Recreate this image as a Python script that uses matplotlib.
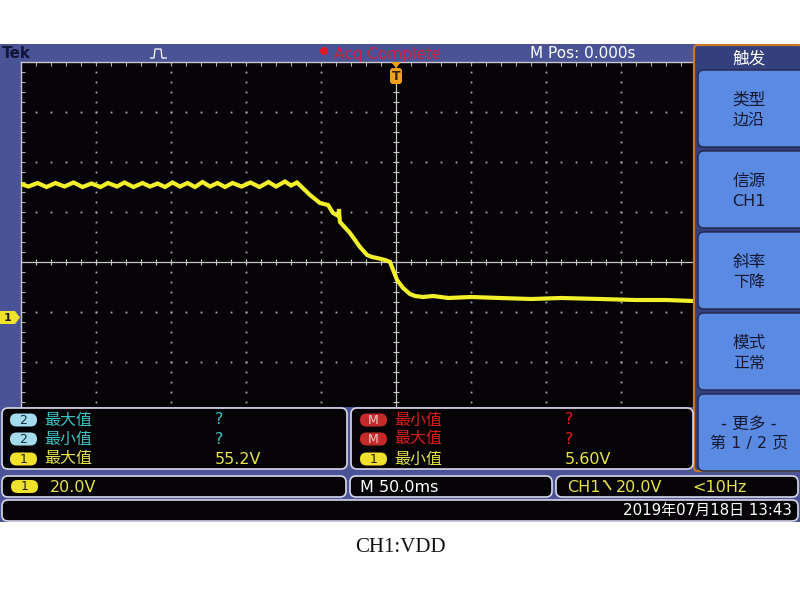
import matplotlib
matplotlib.use('Agg')
import matplotlib.pyplot as plt
from matplotlib.patches import FancyBboxPatch, Rectangle, Polygon, Circle
from matplotlib.transforms import Affine2D
import numpy as np

plt.rcParams['font.family'] = ['DejaVu Sans', 'Noto Sans CJK SC']

# ---------------- data (time in ms, voltage in V) ----------------
trace_t = [-250, -245, -239, -233, -227, -221, -215, -209, -203, -197,
           -192, -186, -181, -175, -169, -164, -159, -154, -149, -144,
           -139, -134, -129, -124, -119, -114, -109, -103, -97, -91,
           -85, -80, -74, -70, -66,
           -57.3, -50.7, -45.3, -42, -38.3, -38, -37.7, -37.3, -30.7, -24,
           -19.3, -16, -12.7, -7.3, -4, -2.7, 0.7, 4.7, 9.3, 12.7,
           18, 24.7, 35, 50, 69.3, 90, 110, 136, 160, 180, 198]
trace_v = [53.2, 52.2, 53.6, 52.0, 53.6, 52.2, 53.8, 52.0, 53.4, 52.0,
           53.6, 52.2, 53.8, 52.0, 53.6, 52.2, 53.4, 52.0, 53.8, 52.2,
           53.6, 52.0, 54.0, 52.2, 53.6, 52.0, 53.6, 52.2, 53.8, 52.0,
           54.0, 52.2, 54.2, 52.6, 53.8,
           48.8, 45.6, 44.8, 41.6, 40.4, 43.2, 40.0, 38.0, 33.6, 28.0,
           24.8, 24.0, 23.6, 22.8, 22.0, 20.0, 14.8, 11.6, 9.2, 8.4,
           8.0, 8.4, 7.6, 8.0, 7.6, 7.2, 7.6, 7.2, 6.8, 6.8, 6.4]

volts_per_div = 20.0
ms_per_div = 50.0
ch1_offset_div = 1.1          # ground marker below screen centre

meas_left = [('2', '最大值', '?'), ('2', '最小值', '?'), ('1', '最大值', '55.2V')]
meas_right = [('M', '最小值', '?'), ('M', '最大值', '?'), ('1', '最小值', '5.60V')]
menu_title = '触发'
menu_items = [('类型', '边沿'), ('信源', 'CH1'), ('斜率', '下降'),
              ('模式', '正常'), ('- 更多 -', '第 1 / 2 页')]
ch1_label = '20.0V'
timebase_label = 'M 50.0ms'
trig_src = 'CH1'
trig_level = '20.0V'
trig_freq = '<10Hz'
date_label = '2019年07月18日 13:43'
mpos_label = 'M Pos: 0.000s'
acq_label = 'Acq Complete'
caption = 'CH1:VDD'

# ---------------- figure ----------------
W, H = 800, 600
fig = plt.figure(figsize=(8, 6), dpi=100)
fig.patch.set_facecolor('white')
T = Affine2D().scale(1 / W, -1 / H).translate(0, 1) + fig.transFigure

FRAME = '#4a5396'
BLUE_BTN = '#5b8ae2'


def add(p, z=2):
    p.set_transform(T)
    p.set_zorder(z)
    fig.add_artist(p)
    return p


def txt(x, y, s, z=5, **kw):
    return fig.text(x, y, s, transform=T, zorder=z, **kw)


def rbox(x0, y0, x1, y1, r=5, fc='black', ec='none', lw=1.0, z=2):
    return add(FancyBboxPatch((x0, y0), x1 - x0, y1 - y0,
                              boxstyle=f"round,pad=0,rounding_size={r}",
                              fc=fc, ec=ec, lw=lw), z)


# outer scope frame
add(Rectangle((0, 44), 800, 478, fc=FRAME, ec='none'), 1)

# ---------------- graticule axes ----------------
cx_pix, cy_pix = 396, 262
px_div, py_div = 75.0, 50.0
ax_l, ax_r, ax_t, ax_b = 21, 693, 62, 407
ax = fig.add_axes([ax_l / W, 1 - ax_b / H, (ax_r - ax_l) / W, (ax_b - ax_t) / H])
ax.set_zorder(1.5)
ax.set_facecolor('#060307')
centre_v = ch1_offset_div * volts_per_div
t_min = (ax_l - cx_pix) / px_div * ms_per_div
t_max = (ax_r - cx_pix) / px_div * ms_per_div
v_min = centre_v - (ax_b - cy_pix) / py_div * volts_per_div
v_max = centre_v + (cy_pix - ax_t) / py_div * volts_per_div
ax.set_xlim(t_min, t_max)
ax.set_ylim(v_min, v_max)
for s in ['right', 'bottom']:
    ax.spines[s].set_visible(False)
for s in ['left', 'top']:
    ax.spines[s].set_color('#c8c8d0')
    ax.spines[s].set_linewidth(1.0)
ax.set_xticks(np.arange(-240, t_max, ms_per_div / 5))
ax.set_yticks(np.arange(centre_v - 56, v_max, volts_per_div / 5))
ax.tick_params(axis='both', direction='in', length=3, width=0.8, color='#b0b0b0',
               labelleft=False, labelbottom=False, left=True, bottom=False,
               top=True, labeltop=False)

# dotted division lines
dot_kw = dict(linestyle='none', marker='s', markersize=1.3, color='#a8a8a8',
              markeredgewidth=0, zorder=2)
vv = np.arange(centre_v - 56, v_max + 0.01, volts_per_div / 5)
for k in range(-4, 4):
    if k == 0:
        continue
    tt = k * ms_per_div
    ax.plot(np.full_like(vv, tt), vv, **dot_kw)
tt_all = np.arange(-240, t_max, ms_per_div / 5)
for k in range(-3, 5):
    if k == 0:
        continue
    v = centre_v + k * volts_per_div
    if v_min < v < v_max:
        ax.plot(tt_all, np.full_like(tt_all, v), **dot_kw)
# centre cross
ax.axvline(0, color='#c8c8c8', lw=0.9, zorder=2)
ax.axhline(centre_v, color='#c8c8c8', lw=0.9, zorder=2)
ax.plot(np.zeros_like(vv), vv, linestyle='none', marker='_', markersize=5,
        color='#c8c8c8', markeredgewidth=0.8, zorder=2)
ax.plot(tt_all, np.full_like(tt_all, centre_v), linestyle='none', marker='|',
        markersize=5, color='#c8c8c8', markeredgewidth=0.8, zorder=2)

# trace
ax.plot(trace_t, trace_v, color='#f2f02a', lw=3.0, zorder=5,
        solid_joinstyle='miter')

# ---------------- top bar ----------------
txt(2, 53, 'Tek', fontsize=11, fontweight='bold', color='#12143a',
    va='center', ha='left')
add(Polygon([(150, 58), (154, 58), (155, 49), (161, 49), (162, 58), (167, 58)],
            closed=False, fill=False, ec='white', lw=0.9), 3)
add(Circle((324, 51), 4, fc='#e01820', ec='none'), 3)
txt(334, 54, acq_label, fontsize=11, color='#d0203c', va='center', ha='left')
txt(530, 54, mpos_label, fontsize=11, color='white', va='center', ha='left')

# trigger position marker
add(Polygon([(391, 62), (401, 62), (396, 68)], closed=True, fc='#f0a020', ec='none'), 4)
rbox(390, 68, 402, 84, r=3, fc='#f0a020', z=4)
txt(396, 76, 'T', fontsize=9, color='#3a2000', va='center', ha='center',
    fontweight='bold')

# ch1 ground marker
add(Polygon([(0, 311), (15, 311), (20, 317.5), (15, 324), (0, 324)],
            closed=True, fc='#f0e22a', ec='none'), 4)
txt(8, 318, '1', fontsize=8, color='#202000', va='center', ha='center',
    fontweight='bold')

# ---------------- right menu ----------------
rbox(694, 45, 802, 471, r=4, fc='#34407e', ec='#c8782a', lw=1.6, z=2)
txt(749, 59, menu_title, fontsize=12, color='white', va='center', ha='center')
btn_tops = [70, 151, 232, 313, 394]
for (a, b), top in zip(menu_items, btn_tops):
    rbox(698, top, 806, top + 77, r=6, fc=BLUE_BTN, ec='#22284a', lw=1.0, z=3)
    txt(749, top + 30, a, fontsize=12, color='#141832', va='center', ha='center')
    txt(749, top + 50, b, fontsize=11.5, color='#141832', va='center', ha='center')

# ---------------- measurement panels ----------------
badge_style = {'2': ('#a4dcee', '#10303a', '#3cc4c4'),
               '1': ('#f0e22a', '#202000', '#e6e448'),
               'M': ('#c42a2a', '#f2c8c8', '#e01c1c')}
rbox(2, 408, 347, 469, r=6, fc='#050306', ec='#d8d8e8', lw=1.2, z=2)
rbox(351, 408, 693, 469, r=6, fc='#050306', ec='#d8d8e8', lw=1.2, z=2)
row_y = [420, 439, 459]
for (panel, x0, xv) in [(meas_left, 10, 215), (meas_right, 360, 565)]:
    for (b, lab, val), y in zip(panel, row_y):
        fc, tc, lc = badge_style[b]
        rbox(x0, y - 6.5, x0 + 27, y + 6.5, r=6.5, fc=fc, z=3)
        txt(x0 + 13.5, y + 0.5, b, fontsize=9, color=tc, va='center', ha='center')
        txt(x0 + 34, y, lab, fontsize=11.5, color=lc, va='center', ha='left')
        txt(xv, y, val, fontsize=11.5, color=lc, va='center', ha='left')

# second row
rbox(2, 476, 346, 497, r=6, fc='#050306', ec='#d8d8e8', lw=1.2, z=2)
rbox(350, 476, 552, 497, r=6, fc='#050306', ec='#d8d8e8', lw=1.2, z=2)
rbox(556, 476, 798, 497, r=6, fc='#050306', ec='#d8d8e8', lw=1.2, z=2)
rbox(11, 480, 38, 493, r=6.5, fc='#f0e22a', z=3)
txt(24.5, 487, '1', fontsize=9, color='#202000', va='center', ha='center')
txt(50, 487, ch1_label, fontsize=11.5, color='#e6e448', va='center', ha='left')
txt(360, 487, timebase_label, fontsize=11.5, color='white', va='center', ha='left')
txt(567, 488, trig_src, fontsize=11.5, color='#e6e448', va='center', ha='left')
add(Polygon([(603, 481), (605, 481), (611, 490)], closed=False, fill=False,
            ec='#e6e448', lw=1.2), 4)
txt(616, 487, trig_level, fontsize=11.5, color='#e6e448', va='center', ha='left')
txt(692, 487, trig_freq, fontsize=11.5, color='#e6e448', va='center', ha='left')

# third row
rbox(2, 500, 798, 521, r=6, fc='#050306', ec='#d8d8e8', lw=1.2, z=2)
txt(792, 510, date_label, fontsize=10.8, color='white', va='center', ha='right')

# caption
txt(400, 547, caption, fontsize=15, color='#111111', va='center', ha='center',
    family=['Liberation Serif', 'DejaVu Serif'])

fig.savefig('out.png', dpi=100, facecolor='white')
